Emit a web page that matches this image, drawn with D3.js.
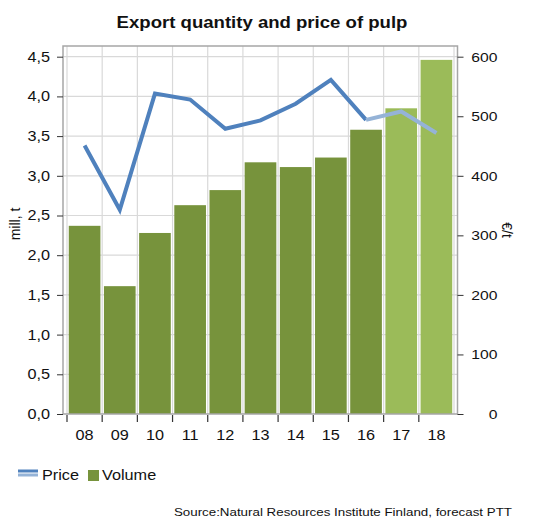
<!DOCTYPE html>
<html>
<head>
<meta charset="utf-8">
<script src="https://cdn.jsdelivr.net/npm/d3@7"></script>
<style>
  body { margin: 0; background: #fff; }
  text { font-family: "Liberation Sans", Arial, sans-serif; fill: #111; }
</style>
</head>
<body>
<svg id="canvas"></svg>
<script>
// years on the x axis, last two are forecast
const years = ['08', '09', '10', '11', '12', '13', '14', '15', '16', '17', '18'];
const forecastYears = ['17', '18'];
// export volume, mill. t
const volume = [2.37, 1.61, 2.28, 2.63, 2.82, 3.17, 3.11, 3.23, 3.58, 3.85, 4.46];
// price, eur/t
const price = [451, 343, 538, 528, 479, 493, 521, 561, 494, 508, 472];
const leftTicks = [0, 0.5, 1, 1.5, 2, 2.5, 3, 3.5, 4, 4.5];
const rightTicks = [0, 100, 200, 300, 400, 500, 600];

const w = 533;
const h = 530;
const frame = { left: 63, right: 457.5, top: 46, bottom: 414 };
// the original chart text is a bit wider than plain Arial
const stretch = 1.16;

const dark = '#77933c';
const light = '#9bbb59';
const blue = '#4f81bd';
const lightBlue = '#95b3d7';

const fi = d3.formatLocale({ decimal: ',', thousands: ' ', grouping: [3], currency: ['', ''] });

const svg = d3.select('#canvas').attr('width', w).attr('height', h);

const x = d3.scaleBand().domain(years).range([67, 454]).paddingInner(0.1).paddingOuter(0.05);
const yL = d3.scaleLinear().domain([0, 4.5]).range([frame.bottom, 56.7]);
const yR = d3.scaleLinear().domain([0, 600]).range([frame.bottom, 56.7]);

// band boundaries (ticks and vertical grid)
const half = x.step() * x.paddingInner() / 2;
const bounds = years.map((d) => x(d) - half).concat([x(years[years.length - 1]) + x.bandwidth() + half]);

// grid
svg.append('g').selectAll('line').data(leftTicks.slice(1))
  .enter().append('line')
  .attr('x1', frame.left).attr('x2', frame.right)
  .attr('y1', (d) => yL(d)).attr('y2', (d) => yL(d))
  .attr('stroke', '#d9d9d9').attr('stroke-width', 1.2);
svg.append('g').selectAll('line').data(bounds)
  .enter().append('line')
  .attr('x1', (d) => d).attr('x2', (d) => d)
  .attr('y1', frame.top).attr('y2', frame.bottom)
  .attr('stroke', '#d9d9d9').attr('stroke-width', 1.2);

// bars
svg.append('g').selectAll('rect').data(years)
  .enter().append('rect')
  .attr('x', (d) => x(d))
  .attr('width', x.bandwidth())
  .attr('y', (d, i) => yL(volume[i]))
  .attr('height', (d, i) => yL(0) - yL(volume[i]))
  .attr('fill', (d) => forecastYears.includes(d) ? light : dark);

// price line, actual and forecast part
const line = d3.line().x((d) => x(d.year) + x.bandwidth() / 2).y((d) => yR(d.value));
const pts = years.map((d, i) => ({ year: d, value: price[i] }));
const firstF = years.indexOf(forecastYears[0]);
svg.append('path').datum(pts.slice(0, firstF))
  .attr('d', line).attr('fill', 'none').attr('stroke', blue).attr('stroke-width', 4);
svg.append('path').datum(pts.slice(firstF - 1))
  .attr('d', line).attr('fill', 'none').attr('stroke', lightBlue).attr('stroke-width', 4);

// frame
svg.append('rect')
  .attr('x', frame.left).attr('y', frame.top)
  .attr('width', frame.right - frame.left).attr('height', frame.bottom - frame.top)
  .attr('fill', 'none').attr('stroke', '#a6a6a6').attr('stroke-width', 1.5);

// axes
const yAxisL = d3.axisLeft(yL).tickValues(leftTicks).tickFormat(fi.format('.1f')).tickSize(6).tickPadding(7).tickSizeOuter(0);
const gl = svg.append('g').attr('transform', 'translate(' + frame.left + ',0)').call(yAxisL);
gl.select('.domain').remove();
gl.selectAll('text').attr('font-size', 14).style('font-family', '"Liberation Sans", Arial, sans-serif');
gl.selectAll('line').attr('stroke', '#333');

const yAxisR = d3.axisRight(yR).tickValues(rightTicks).tickFormat(d3.format('d')).tickSize(6).tickPadding(34).tickSizeOuter(0);
const gr = svg.append('g').attr('transform', 'translate(' + frame.right + ',0)').call(yAxisR);
gr.select('.domain').remove();
gr.selectAll('text').attr('font-size', 13.5).attr('text-anchor', 'end').style('font-family', '"Liberation Sans", Arial, sans-serif');
gr.selectAll('line').attr('stroke', '#333');

const xAxis = d3.axisBottom(x).tickSize(0).tickPadding(16);
const gx = svg.append('g').attr('transform', 'translate(0,' + frame.bottom + ')').call(xAxis);
gx.select('.domain').remove();
gx.selectAll('text').attr('font-size', 14).style('font-family', '"Liberation Sans", Arial, sans-serif');

svg.append('g').selectAll('line').data(bounds.slice(0, years.length))
  .enter().append('line')
  .attr('x1', (d) => d).attr('x2', (d) => d)
  .attr('y1', frame.bottom + 1).attr('y2', frame.bottom + 8)
  .attr('stroke', '#333').attr('stroke-width', 1.2);

// titles
svg.append('text').attr('x', 262).attr('y', 28).attr('text-anchor', 'middle')
  .attr('font-size', 16).attr('font-weight', 'bold').text('Export quantity and price of pulp');
svg.append('text').attr('class', 'rot').attr('transform', 'translate(20,224) rotate(-90)').attr('text-anchor', 'middle')
  .attr('font-size', 14).text('mill, t');
svg.append('text').attr('class', 'rot').attr('transform', 'translate(502,230) rotate(90)').attr('text-anchor', 'middle')
  .attr('font-size', 14).text('€/t');

// legend
const lg = svg.append('g');
lg.append('line').attr('x1', 18).attr('x2', 38).attr('y1', 471).attr('y2', 471).attr('stroke', blue).attr('stroke-width', 3);
lg.append('line').attr('x1', 18).attr('x2', 38).attr('y1', 475).attr('y2', 475).attr('stroke', lightBlue).attr('stroke-width', 3);
lg.append('text').attr('x', 42).attr('y', 480).attr('font-size', 14).text('Price');
lg.append('rect').attr('x', 88).attr('y', 470).attr('width', 11).attr('height', 11).attr('fill', dark);
lg.append('text').attr('x', 102).attr('y', 480).attr('font-size', 14).text('Volume');

svg.append('text').attr('x', 512).attr('y', 516).attr('text-anchor', 'end')
  .attr('font-size', 11.5).text('Source:Natural Resources Institute Finland, forecast PTT');

// widen horizontal texts
svg.selectAll('text:not(.rot)').each(function () {
  const len = this.getComputedTextLength();
  d3.select(this).attr('textLength', len * stretch).attr('lengthAdjust', 'spacingAndGlyphs');
});
</script>
</body>
</html>
